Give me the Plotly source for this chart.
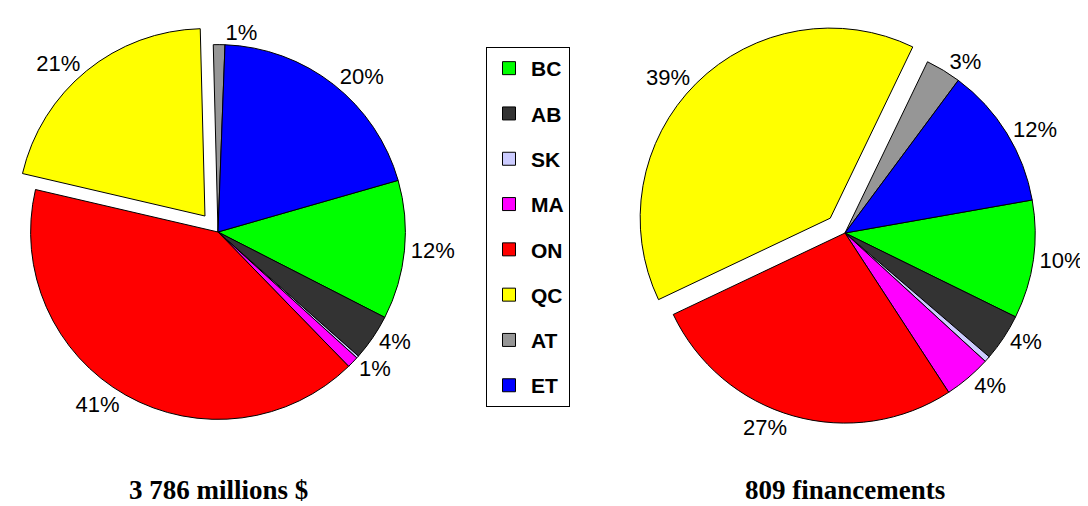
import plotly.graph_objects as go

# ── Data ─────────────────────────────────────────────────────
regions = ["BC", "AB", "SK", "MA", "ON", "QC", "AT", "ET"]
colors = ["#00FF00", "#333333", "#CCCCFF", "#FF00FF",
          "#FF0000", "#FFFF00", "#969696", "#0000FF"]

montants_pct = [12, 4, 0.2, 1, 41, 21, 1, 20]        # 3 786 millions $
financements_pct = [10, 4, 0.5, 4, 27, 39, 3, 12]    # 809 financements

titles = ["3 786 millions $", "809 financements"]

pull_qc = [0, 0, 0, 0, 0, 0.11, 0, 0]

W, H = 1088, 506
OFF = 8   # page body margin


def px_dom(x0, x1, y0, y1):
    return dict(x=[x0 / W, x1 / W], y=[1 - y1 / H, 1 - y0 / H])


def pie(values, rotation, domain):
    tpl = ["%{percent:.0%}"] * len(values)
    tpl[regions.index("SK")] = ""     # SK trop petit : pas d'étiquette
    return go.Pie(
        labels=regions,
        values=values,
        sort=False,
        direction="clockwise",
        rotation=rotation,
        pull=pull_qc,
        marker=dict(colors=colors, line=dict(color="black", width=1)),
        texttemplate=tpl,
        textposition="outside",
        textfont=dict(family="Liberation Sans", size=22, color="black"),
        domain=domain,
        automargin=False,
        showlegend=False,
        hovertemplate="<b>%{label}</b><br>%{percent:.0%}<extra></extra>",
    )


fig = go.Figure()

fig.add_trace(pie(montants_pct, 74, px_dom(2, 418, 16, 432)))
fig.add_trace(pie(financements_pct, 80, px_dom(626, 1048, 14, 436)))

# ── Legend entries (one group per region for spacing) ────────
for name, col in zip(regions, colors):
    fig.add_trace(go.Scatter(
        x=[None], y=[None],
        mode="markers",
        name=name,
        legendgroup=name,
        marker=dict(symbol="square", size=13, color=col,
                    line=dict(color="black", width=1)),
        hoverinfo="skip",
    ))

fig.update_layout(
    width=W, height=H,
    margin=dict(l=0, r=0, t=0, b=0, autoexpand=False),
    paper_bgcolor="white",
    plot_bgcolor="white",
    xaxis=dict(visible=False),
    yaxis=dict(visible=False),
    legend=dict(
        x=(486 - OFF) / W, y=1 - (47 - OFF) / H,
        xanchor="left", yanchor="top",
        bgcolor="white",
        bordercolor="black",
        borderwidth=1,
        font=dict(family="Liberation Sans", size=21, color="black",
                  weight="bold"),
        tracegroupgap=15,
        itemwidth=34,
        itemclick=False,
    ),
    annotations=[
        dict(x=(218 - OFF) / W, y=1 - (490 - OFF) / H,
             xref="paper", yref="paper", xanchor="center", yanchor="middle",
             text="<b>" + titles[0] + "</b>", showarrow=False,
             font=dict(family="Liberation Serif", size=27, color="black")),
        dict(x=(845 - OFF) / W, y=1 - (490 - OFF) / H,
             xref="paper", yref="paper", xanchor="center", yanchor="middle",
             text="<b>" + titles[1] + "</b>", showarrow=False,
             font=dict(family="Liberation Serif", size=27, color="black")),
    ],
)

fig.write_html("out.html")
